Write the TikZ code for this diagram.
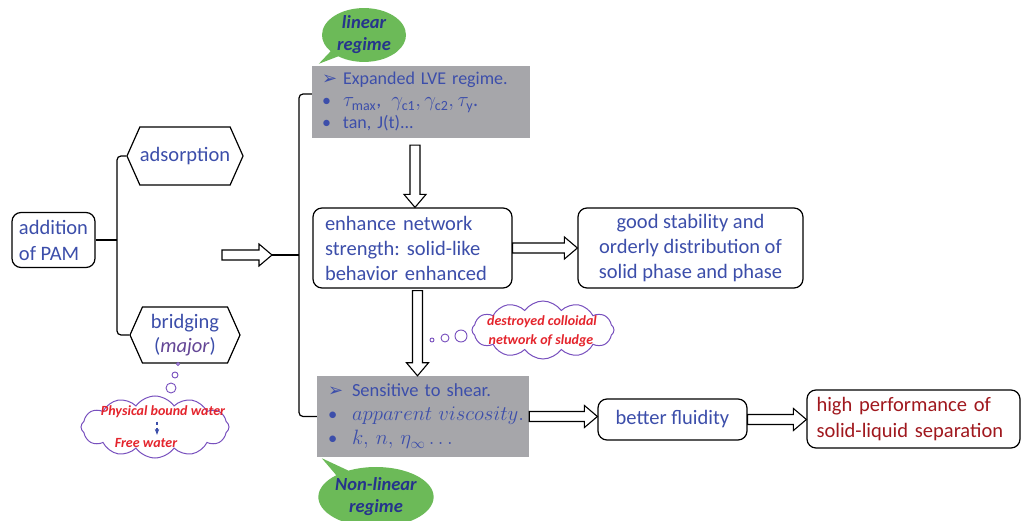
\documentclass[tikz,border=0pt]{standalone}
\usepackage{fontspec}
\setmainfont{Carlito}
\newfontfamily\dejavu{DejaVu Sans}
\usetikzlibrary{shapes.symbols,shapes.callouts,calc,arrows.meta}
\definecolor{tblue}{RGB}{60,78,170}
\definecolor{dblue}{RGB}{38,52,140}
\definecolor{gbox}{RGB}{166,166,170}
\definecolor{bgreen}{RGB}{108,186,88}
\definecolor{dred}{RGB}{160,24,30}
\definecolor{cred}{RGB}{228,36,44}
\definecolor{cpurple}{RGB}{120,80,190}
\definecolor{mpurple}{RGB}{100,70,150}
\frenchspacing
\newcommand{\harrow}[2]{\draw[blk] let \p1=(#1), \p2=(#2) in (\x1,\y1+5pt) -- (\x2-13pt,\y1+5pt) -- (\x2-13pt,\y1+11pt) -- (\x2,\y1) -- (\x2-13pt,\y1-11pt) -- (\x2-13pt,\y1-5pt) -- (\x1,\y1-5pt) -- cycle;}
\newcommand{\varrow}[2]{\draw[blk] let \p1=(#1), \p2=(#2) in (\x1-5pt,\y1) -- (\x1-5pt,\y2+13pt) -- (\x1-11pt,\y2+13pt) -- (\x1,\y2) -- (\x1+11pt,\y2+13pt) -- (\x1+5pt,\y2+13pt) -- (\x1+5pt,\y1) -- cycle;}
\newcommand{\arrbul}{\dejavu\fontsize{18}{18}\selectfont ➢}
\begin{document}
\begin{tikzpicture}[x=1pt,y=-1pt, font=\fontsize{20.5}{26}\selectfont,
  rbox/.style={draw, rounded corners=9pt, fill=white, inner sep=0pt, text=tblue, line width=1.2pt},
  hexa/.style={draw, signal, signal to=west and east, signal pointer angle=132, fill=white, inner sep=0pt, text=tblue, line width=1.2pt},
  gbx/.style={fill=gbox, inner ysep=0pt, text=tblue, align=left},
  blk/.style={draw, fill=white, line width=1.1pt, line join=miter},
  brk/.style={draw, line width=1.2pt, rounded corners=4pt},
  bub/.style={ellipse callout, fill=bgreen, text=dblue, font=\fontsize{18.5}{22}\selectfont\bfseries\itshape, align=center, inner sep=0pt},
  thought/.style={cloud, cloud puffs=12, cloud puff arc=110, aspect=2.4, draw=cpurple, fill=white, line width=1pt, inner sep=0pt},
  ctext/.style={text=cred, font=\fontsize{14}{16}\selectfont\bfseries\itshape},
  dot/.style={circle, draw=cpurple, line width=0.9pt, fill=white, inner sep=0pt}]
\useasboundingbox (0,0) rectangle (1021,521);
% left part
\node[rbox, minimum width=83pt, minimum height=55pt, align=left] (add) at (53.5,240) {addition\\of PAM};
\node[hexa, minimum width=110pt, minimum height=58pt] (ads) at (185,156) {adsorption};
\node[hexa, minimum width=110pt, minimum height=56pt, align=center, font=\fontsize{20.5}{24}\selectfont] (brg) at (185,335) {bridging\\(\textcolor{mpurple}{\textit{major}})};
\coordinate (bA) at (117,245);
\draw[brk] (ads.west) -- (ads.west -| bA) -- (brg.west -| bA) -- (brg.west);
\draw[brk] (add.east) -- (add.east -| bA);
% thought cloud 1
\node[dot, minimum size=3pt] (t1) at (178,364) {};
\node[dot, minimum size=6pt] (t2) at (175,375) {};
\node[dot, minimum size=10pt] (t3) at (171,388) {};
\node[thought, minimum width=148pt, minimum height=62pt] (c1) at (155,427) {};
\node[ctext] (pbw) at (163,412) {Physical bound water};
\node[ctext] (fw) at (146,443) {Free water};
\coordinate (d1) at ([xshift=-6pt]pbw.south);
\draw[tblue, dashed, line width=1.2pt, -{Stealth[length=6pt]}] (d1) -- (d1 |- fw.north);
% gray boxes
\node[gbx, inner xsep=10pt, text width=198pt, minimum height=72pt, font=\fontsize{18}{22}\selectfont] (tb) at (421,102)
 {\makebox[21pt][l]{\arrbul}Expanded LVE regime.\\
  \makebox[21pt][l]{•}{\fontsize{20}{22}\selectfont$\tau_{\max}$,\enspace $\gamma_{\mathrm{c1}},\gamma_{\mathrm{c2}},\tau_{\mathrm{y}}$.}\\
  \makebox[21pt][l]{•}tan, J(t)...};
\node[gbx, inner xsep=11pt, text width=190pt, minimum height=81pt, font=\fontsize{18.5}{24}\selectfont] (bb) at (423,416.5)
 {\makebox[24pt][l]{\arrbul}Sensitive to shear.\\
  \makebox[24pt][l]{•}{\fontsize{21}{24}\selectfont$apparent\ viscosity.$}\\
  \makebox[24pt][l]{•}{\fontsize{20}{24}\selectfont$k,\, n,\, \eta_{\infty}\ldots$}};
% bubbles
\node[bub, minimum width=84pt, minimum height=46pt, callout absolute pointer={([xshift=7pt,yshift=2pt]tb.north west)}] (lin) at (364,35) {linear\\regime};
\node[bub, minimum width=104pt, minimum height=60pt, callout absolute pointer={([xshift=5pt,yshift=-1pt]bb.south west)}] (nonlin) at (376,497) {Non-linear\\regime};
% middle boxes
\node[rbox, minimum width=199pt, minimum height=80pt, text width=175pt, align=left, font=\fontsize{20.5}{25}\selectfont] (en) at (412.5,248) {enhance network\\strength: solid-like\\behavior enhanced};
\node[rbox, minimum width=225pt, minimum height=80pt, align=center, font=\fontsize{20.5}{25}\selectfont] (gd) at (690.5,248) {good stability and\\orderly distribution of\\solid phase and phase};
\node[rbox, minimum width=149pt, minimum height=41pt] (fl) at (672.5,419.5) {better fluidity};
\node[rbox, minimum width=213pt, minimum height=58pt, text=dred, text width=194pt, align=left] (hp) at (913.5,419) {high performance of\\solid-liquid separation};
% second bracket
\coordinate (bB) at (299,255);
\coordinate (ar0) at (222,255);
\coordinate (ar1) at (272,255);
\coordinate (tbj) at ([yshift=8pt]tb.west);
\draw[brk] (tbj) -- (tbj -| bB) -- (bb.west -| bB) -- (bb.west);
\draw[brk] (ar1) -- (bB);
% block arrows
\coordinate (a1s) at ([xshift=-6pt,yshift=-7pt]tb.south);
\coordinate (a1e) at (a1s |- en.north);
\coordinate (a2s) at ([xshift=5pt,yshift=-2pt]en.south);
\coordinate (a2e) at (a2s |- bb.north);
\harrow{ar0}{ar1}
\varrow{a1s}{a1e}
\harrow{en.east}{gd.west}
\varrow{a2s}{a2e}
\harrow{bb.east}{fl.west}
\harrow{fl.east}{hp.west}
% thought cloud 2
\node[dot, minimum size=4pt] (s1) at (432,340) {};
\node[dot, minimum size=8pt] (s2) at (445,338) {};
\node[dot, minimum size=12pt] (s3) at (461,336) {};
\node[thought, minimum width=142pt, minimum height=58pt] (c2) at (543,330) {};
\node[ctext] (dc) at (542,322) {destroyed colloidal};
\node[ctext] (ns) at (541,341) {network of sludge};
\end{tikzpicture}
\end{document}
